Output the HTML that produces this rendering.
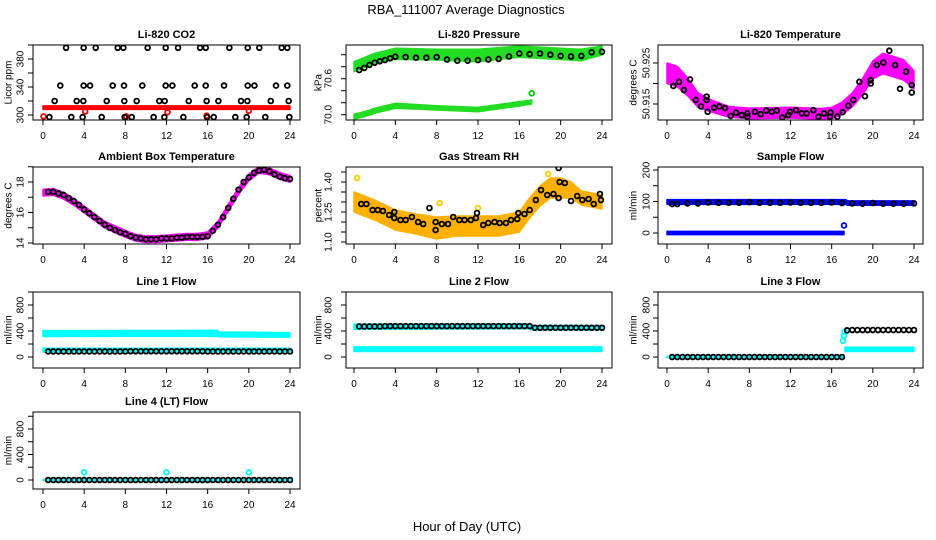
<!DOCTYPE html>
<html><head><meta charset="utf-8"><style>
html,body{margin:0;padding:0;background:#fff;}
svg{display:block;font-family:"Liberation Sans",sans-serif;}
</style></head><body>
<svg id="chart" width="936" height="540" viewBox="0 0 936 540" xmlns="http://www.w3.org/2000/svg">
<text x="466" y="14" font-size="13" text-anchor="middle">RBA_111007  Average Diagnostics</text>
<text x="467" y="531" font-size="13" text-anchor="middle">Hour of Day (UTC)</text>
</svg>
<script>
// ---------- data ----------
const xTicks = [0,4,8,12,16,20,24];
// CO2
const co2BandHours = [0,24];
const co2BandLow = [308,308];
const co2BandHigh = [313,313];
const co2BlackHours = [2.24,3.95,5.12,7.26,7.81,10.17,11.92,13.12,15.26,15.81,18.11,19.89,21.02,23.19,23.74,
 1.68,3.95,4.57,6.77,7.87,9.65,11.92,12.57,14.74,15.81,17.59,19.89,20.54,22.64,23.74,
 1.13,3.27,3.92,6.19,7.9,9.1,11.3,11.82,14.16,15.9,17.04,19.24,19.86,22.13,23.87,
 0.62,2.75,3.85,5.7,7.94,8.62,10.75,11.79,13.64,15.94,16.59,18.69,19.79,21.6,23.94];
const co2BlackVals = [396,396,396,396,396,396,396,396,396,396,396,396,396,396,396,
 342,342,342,342,342,342,342,342,342,342,342,342,342,342,342,
 320,320,320,320,320,320,320,320,320,320,320,320,320,320,320,
 297,297,297,297,297,297,297,297,297,297,297,297,297,297,297];
const co2RedHours = [0.05,4.1,8.1,12.1,15.9,20.0];
const co2RedVals = [298,305,298,304,299,306];
// Pressure
const presUpHours = [0,2,4,8,12,16,20,22,24];
const presUpHigh = [70.883,71.023,71.107,71.09,71.09,71.145,71.107,71.09,71.145];
const presUpLow = [70.717,70.857,70.923,70.912,70.883,70.957,70.92,70.9,70.995];
const presLoHours = [0,1,2,4,8,12,16,17.2];
const presLoHigh = [70.007,70.05,70.107,70.19,70.15,70.123,70.217,70.245];
const presLoLow = [69.923,69.967,70.023,70.107,70.078,70.05,70.145,70.178];
const presBlackHours = [0.5,1,1.5,2,2.5,3,3.5,4,5,6,7,8,9,10,11,12,13,14,15,16,17,18,19,20,21,22,23,24];
const presBlackVals = [70.745,70.78,70.83,70.867,70.89,70.91,70.94,70.967,70.96,70.95,70.95,70.96,70.92,70.9,70.9,70.91,70.92,70.93,70.97,71.02,71.01,71.02,71.0,70.98,70.97,70.98,71.04,71.05];
const presGreenOutHours = [17.2];
const presGreenOutVals = [70.357];
// Li-820 Temperature
const tempBandHours = [0,1,2,3,4,6,8,12,15,16,17,18,19,20,21,22,23,24];
const tempBandMid = [50.9225,50.9217,50.9192,50.916,50.9148,50.9131,50.9127,50.9129,50.9126,50.9128,50.9139,50.916,50.9192,50.9233,50.9249,50.9241,50.9233,50.9209];
const tempBandHalf = [0.0025,0.0025,0.0022,0.0018,0.0015,0.0013,0.0013,0.0013,0.0013,0.0014,0.0015,0.0017,0.002,0.0022,0.0025,0.0025,0.0025,0.0022];
const tempBlackHours = [0.62,1.17,1.65,2.24,2.79,3.3,3.85,3.85,3.95,4.57,5.09,5.64,6.19,6.71,7.26,7.81,7.81,8.55,9.1,9.65,10.17,10.66,11.21,11.79,11.95,12.54,13.09,13.57,14.22,14.71,15.26,15.84,15.9,16.55,17.07,17.62,18.11,18.69,19.24,19.79,19.79,20.38,21.02,21.6,22.16,22.64,23.23,23.78,23.78];
const tempBlackVals = [50.9194,50.9204,50.9184,50.921,50.916,50.9144,50.9168,50.916,50.9131,50.9141,50.9144,50.914,50.9121,50.9129,50.9123,50.9127,50.9119,50.9131,50.9125,50.9134,50.9131,50.9134,50.9117,50.9123,50.9131,50.9135,50.9127,50.9127,50.9135,50.9119,50.9127,50.9119,50.9129,50.9119,50.913,50.9146,50.916,50.9204,50.9169,50.9208,50.92,50.9245,50.9251,50.928,50.9245,50.9187,50.9229,50.9178,50.9196];
// Ambient box temperature
const ambHours = [0,1,2,3,4,5,6,7,8,9,10,11,12,13,14,15,16,17,18,19,20,21,22,23,24];
const ambVals = [17.3,17.35,17.1,16.7,16.2,15.7,15.2,14.9,14.6,14.35,14.25,14.25,14.3,14.35,14.4,14.4,14.5,15.2,16.3,17.4,18.3,18.8,18.7,18.4,18.2];
const ambBlackHours = [0.5,1,1.5,2,2.5,3,3.5,4,4.5,5,5.5,6,6.5,7,7.5,8,8.5,9,9.5,10,10.5,11,11.5,12,12.5,13,13.5,14,14.5,15,15.5,16,16.5,17,17.5,18,18.5,19,19.5,20,20.5,21,21.5,22,22.5,23,23.5,24];
const ambBlackVals = [17.35,17.35,17.25,17.15,16.95,16.75,16.5,16.2,15.95,15.7,15.45,15.2,15.0,14.85,14.7,14.6,14.45,14.35,14.3,14.25,14.25,14.25,14.3,14.3,14.3,14.35,14.35,14.4,14.4,14.4,14.4,14.45,14.8,15.2,15.7,16.3,16.9,17.5,18.0,18.3,18.6,18.75,18.8,18.7,18.5,18.35,18.25,18.2];
// Gas stream RH
const rhBandHours = [0,1,2,4,6,8,10,12,14,16,17,18,19,20,21,22,24];
const rhBandMid = [1.30,1.28,1.26,1.21,1.19,1.17,1.18,1.18,1.18,1.20,1.27,1.33,1.37,1.37,1.36,1.32,1.30];
const rhBandHalf = [0.05,0.05,0.05,0.05,0.05,0.055,0.05,0.05,0.05,0.05,0.05,0.05,0.05,0.05,0.04,0.035,0.035];
const rhBlackHours = [0.7,1.2,1.8,2.3,2.8,3.4,3.9,3.9,4.5,5,5.6,6.2,6.7,7.3,7.9,7.9,8.5,9.1,9.6,10.2,10.7,11.3,11.8,11.9,12.5,13,13.6,14.1,14.7,15.2,15.8,15.9,16.5,17,17.6,18.1,18.7,19.3,19.8,19.8,19.9,20.4,21,21.6,22.1,22.7,23.2,23.8,23.9];
const rhBlackVals = [1.29,1.29,1.26,1.26,1.255,1.235,1.22,1.25,1.21,1.21,1.225,1.2,1.19,1.27,1.16,1.2,1.19,1.19,1.225,1.21,1.21,1.21,1.22,1.245,1.185,1.195,1.2,1.195,1.195,1.21,1.215,1.245,1.24,1.26,1.31,1.36,1.335,1.34,1.32,1.47,1.40,1.395,1.305,1.33,1.31,1.315,1.29,1.34,1.31];
const rhYellowOutHours = [0.3,8.3,12.0,18.8];
const rhYellowOutVals = [1.42,1.295,1.27,1.44];
// Sample flow
const sfUpHours = [0,17.4,17.5,24];
const sfUpHigh = [106,106,102,102];
const sfUpLow = [91,91,88,88];
const sfLoHours = [0,17.2];
const sfLoHigh = [5,5];
const sfLoLow = [-5,-5];
const sfBlackHours = [0.5,1,2,3,4,5,6,7,8,9,10,11,12,13,14,15,16,17,18,19,20,21,22,23,24];
const sfBlackVals = [92,92,94,94,97,96,96,96,98,96,96,96,97,96,96,96,97,95,94,93,95,93,93,93,94];
const sfBlueOutHours = [17.2];
const sfBlueOutVals = [24];
// Line flows
const flowBlackHours = [0.5,1,1.5,2,2.5,3,3.5,4,4.5,5,5.5,6,6.5,7,7.5,8,8.5,9,9.5,10,10.5,11,11.5,12,12.5,13,13.5,14,14.5,15,15.5,16,16.5,17,17.5,18,18.5,19,19.5,20,20.5,21,21.5,22,22.5,23,23.5,24];
const l1UpHours = [0,17,17.1,24];
const l1UpHigh = [405,410,385,375];
const l1UpLow = [315,320,310,305];
const l1LoHours = [0,24];
const l1LoHigh = [135,135];
const l1LoLow = [75,75];
const l1BlackVals = [85,85,85,85,85,85,85,85,85,85,85,85,85,85,85,85,88,88,88,88,88,88,88,88,88,88,88,88,88,88,88,85,85,85,85,85,85,85,85,85,85,85,85,85,85,85,85,85];
const l2UpHours = [0,17,17.1,24];
const l2UpHigh = [505,510,485,485];
const l2UpLow = [425,435,415,415];
const l2LoHours = [0,24];
const l2LoHigh = [155,155];
const l2LoLow = [85,85];
const l2BlackVals = [470,470,470,470,470,475,475,475,475,475,475,475,475,475,475,475,475,475,475,475,475,475,475,475,475,475,475,475,475,475,475,475,475,475,450,450,450,450,450,450,450,450,450,450,450,450,450,450];
const l3UpHours = [0,17.1];
const l3UpHigh = [10,10];
const l3UpLow = [-10,-10];
const l3LoHours = [17.3,24];
const l3LoHigh = [150,150];
const l3LoLow = [85,85];
const l3BlackVals = [0,0,0,0,0,0,0,0,0,0,0,0,0,0,0,0,0,0,0,0,0,0,0,0,0,0,0,0,0,0,0,0,0,0,410,415,415,415,415,415,415,415,415,415,415,415,415,415];
const l3CyanOutHours = [17.1,17.2,17.25];
const l3CyanOutVals = [250,330,390];
const l4UpHours = [0,24];
const l4UpHigh = [10,10];
const l4UpLow = [-10,-10];
const l4BlackVals = [0,0,0,0,0,0,0,0,0,0,0,0,0,0,0,0,0,0,0,0,0,0,0,0,0,0,0,0,0,0,0,0,0,0,0,0,0,0,0,0,0,0,0,0,0,0,0,0];
const l4CyanOutHours = [4,12,20];
const l4CyanOutVals = [120,120,120];

// ---------- layout ----------
const NS = 'http://www.w3.org/2000/svg';
const svg = document.getElementById('chart');
const cols = [{l:33,r:300,x0:43,x24:290,yl:9,tl:21},{l:346,r:612,x0:354,x24:602,yl:319,tl:329},{l:658,r:923,x0:667,x24:914,yl:634,tl:647}];
const rows = [{t:45,b:120},{t:167,b:244},{t:292,b:368},{t:412,b:489}];

function mk(tag, attrs, parent){
  const e = document.createElementNS(NS, tag);
  for (const k in attrs) e.setAttribute(k, attrs[k]);
  (parent||svg).appendChild(e);
  return e;
}

function panel(name, c, r, title, ylab, ymap, yticks, ylabels){
  const C = cols[c], R = rows[r];
  const g = mk('g', {});
  
  
  const xs = h => C.x0 + (C.x24 - C.x0) * h / 24;
  const ys = v => ymap[1] + (v - ymap[0]) * (ymap[3] - ymap[1]) / (ymap[2] - ymap[0]);
  const cp = 'clip-' + name;
  const cl = mk('clipPath', {id: cp}, g);
  mk('rect', {x:C.l, y:R.t, width:C.r-C.l, height:R.b-R.t}, cl);
  const plot = mk('g', {'clip-path': 'url(#' + cp + ')'}, g);
  
  
  const box = mk('rect', {x:C.l, y:R.t, width:C.r-C.l, height:R.b-R.t, fill:'none', stroke:'#000', 'stroke-width':1}, g);
  
  
  const t = mk('text', {x:(C.l+C.r)/2, y:R.t-7, 'font-size':11, 'font-weight':'bold', 'text-anchor':'middle'}, g);
  t.textContent = title;
  
  
  const yl = mk('text', {x:C.yl, y:(R.t+R.b)/2, 'font-size':10, 'text-anchor':'middle', transform:'rotate(-90 '+C.yl+' '+((R.t+R.b)/2)+')', 'dominant-baseline':'middle'}, g);
  yl.textContent = ylab;
  
  
  xTicks.forEach(h => {
    mk('line', {x1:xs(h), x2:xs(h), y1:R.b, y2:R.b+5, stroke:'#000'}, g);
    const tx = mk('text', {x:xs(h), y:R.b+19, 'font-size':10, 'text-anchor':'middle'}, g);
    tx.textContent = String(h);
    
    
  });
  yticks.forEach(v => { const y = ys(v); if (y >= R.t-1 && y <= R.b+1) mk('line', {x1:C.l-5, x2:C.l, y1:y, y2:y, stroke:'#000'}, g); });
  ylabels.forEach(lab => {
    const y = ys(parseFloat(lab));
    const tx = mk('text', {x:C.tl, y:y, 'font-size':10, 'text-anchor':'middle', 'dominant-baseline':'middle', transform:'rotate(-90 '+C.tl+' '+y+')'}, g);
    tx.textContent = lab;
    
    
  });
  return {
    band(hours, lo, hi, color, nm){
      let pts = hours.map((h,i) => xs(h)+','+ys(hi[i]));
      for (let i = hours.length-1; i >= 0; i--) pts.push(xs(hours[i])+','+ys(lo[i]));
      const p = mk('polygon', {points: pts.join(' '), fill: color, stroke: color, 'stroke-width': 1.5, 'stroke-linejoin':'round'}, plot);
      
      
    },
    bandMid(hours, mid, half, color, nm){
      this.band(hours, mid.map((m,i)=>m-half[i]), mid.map((m,i)=>m+half[i]), color, nm);
    },
    points(hours, vals, color, nm){
      hours.forEach((h,i) => {
        const c = mk('circle', {cx: xs(h), cy: ys(vals[i]), r: 2.4, fill: 'none', stroke: color, 'stroke-width': 1.8}, plot);
        
        
      });
    }
  };
}

let p = panel('li820-co2', 0, 0, 'Li-820 CO2', 'Licor ppm', [300,115,380,59], [300,320,340,360,380,400], ['300','340','380']);
p.band(co2BandHours, co2BandLow, co2BandHigh, '#ff0000', 'co2-red-band');
p.points(co2RedHours, co2RedVals, '#ff0000', 'co2-red-point');
p.points(co2BlackHours, co2BlackVals, '#000', 'co2-black-point');

p = panel('li820-pressure', 1, 0, 'Li-820 Pressure', 'kPa', [70.0,114.7,71.0,54.7], [70.0,70.2,70.4,70.6,70.8,71.0], ['70.0','70.6']);
p.band(presUpHours, presUpLow, presUpHigh, '#22dd22', 'pressure-upper-band');
p.band(presLoHours, presLoLow, presLoHigh, '#22dd22', 'pressure-lower-band');
p.points(presGreenOutHours, presGreenOutVals, '#00cc00', 'pressure-green-point');
p.points(presBlackHours, presBlackVals, '#000', 'pressure-black-point');

p = panel('li820-temperature', 2, 0, 'Li-820 Temperature', 'degrees C', [50.915,104,50.925,63], [50.91,50.915,50.92,50.925], ['50.915','50.925']);
p.bandMid(tempBandHours, tempBandMid, tempBandHalf, '#ff00ff', 'temperature-magenta-band');
p.points(tempBlackHours, tempBlackVals, '#000', 'temperature-black-point');

p = panel('ambient-box-temperature', 0, 1, 'Ambient Box Temperature', 'degrees C', [14,243,18,182], [14,15,16,17,18,19], ['14','16','18']);
p.bandMid(ambHours, ambVals, ambHours.map(()=>0.22), '#ff00ff', 'ambient-magenta-band');
p.points(ambBlackHours, ambBlackVals, '#000', 'ambient-black-point');

p = panel('gas-stream-rh', 1, 1, 'Gas Stream RH', 'percent', [1.10,242,1.40,182], [1.10,1.15,1.20,1.25,1.30,1.35,1.40,1.45], ['1.10','1.25','1.40']);
p.bandMid(rhBandHours, rhBandMid, rhBandHalf, '#ffb000', 'rh-orange-band');
p.points(rhYellowOutHours, rhYellowOutVals, '#ffcc00', 'rh-yellow-point');
p.points(rhBlackHours, rhBlackVals, '#000', 'rh-black-point');

p = panel('sample-flow', 2, 1, 'Sample Flow', 'ml/min', [0,233,200,170], [0,50,100,150,200], ['0','100','200']);
p.band(sfUpHours, sfUpLow, sfUpHigh, '#0000ff', 'sample-flow-upper-band');
p.band(sfLoHours, sfLoLow, sfLoHigh, '#0000ff', 'sample-flow-lower-band');
p.points(sfBlueOutHours, sfBlueOutVals, '#0000ff', 'sample-flow-blue-point');
p.points(sfBlackHours, sfBlackVals, '#000', 'sample-flow-black-point');

const flowTicks = [0,200,400,600,800,1000];
const flowLabels = ['0','400','800'];
p = panel('line1-flow', 0, 2, 'Line 1 Flow', 'ml/min', [0,357,800,305], flowTicks, flowLabels);
p.band(l1UpHours, l1UpLow, l1UpHigh, '#00ffff', 'line1-cyan-upper-band');
p.band(l1LoHours, l1LoLow, l1LoHigh, '#00ffff', 'line1-cyan-lower-band');
p.points(flowBlackHours, l1BlackVals, '#000', 'line1-black-point');

p = panel('line2-flow', 1, 2, 'Line 2 Flow', 'ml/min', [0,357,800,305], flowTicks, flowLabels);
p.band(l2UpHours, l2UpLow, l2UpHigh, '#00ffff', 'line2-cyan-upper-band');
p.band(l2LoHours, l2LoLow, l2LoHigh, '#00ffff', 'line2-cyan-lower-band');
p.points(flowBlackHours, l2BlackVals, '#000', 'line2-black-point');

p = panel('line3-flow', 2, 2, 'Line 3 Flow', 'ml/min', [0,357,800,305], flowTicks, flowLabels);
p.band(l3UpHours, l3UpLow, l3UpHigh, '#00ffff', 'line3-cyan-zero-band');
p.band(l3LoHours, l3LoLow, l3LoHigh, '#00ffff', 'line3-cyan-lower-band');
p.points(l3CyanOutHours, l3CyanOutVals, '#00ffff', 'line3-cyan-point');
p.points(flowBlackHours, l3BlackVals, '#000', 'line3-black-point');

p = panel('line4-flow', 0, 3, 'Line 4 (LT) Flow', 'ml/min', [0,480,800,429], flowTicks, flowLabels);
p.band(l4UpHours, l4UpLow, l4UpHigh, '#00ffff', 'line4-cyan-band');
p.points(l4CyanOutHours, l4CyanOutVals, '#00ffff', 'line4-cyan-point');
p.points(flowBlackHours, l4BlackVals, '#000', 'line4-black-point');
</script>
</body></html>
